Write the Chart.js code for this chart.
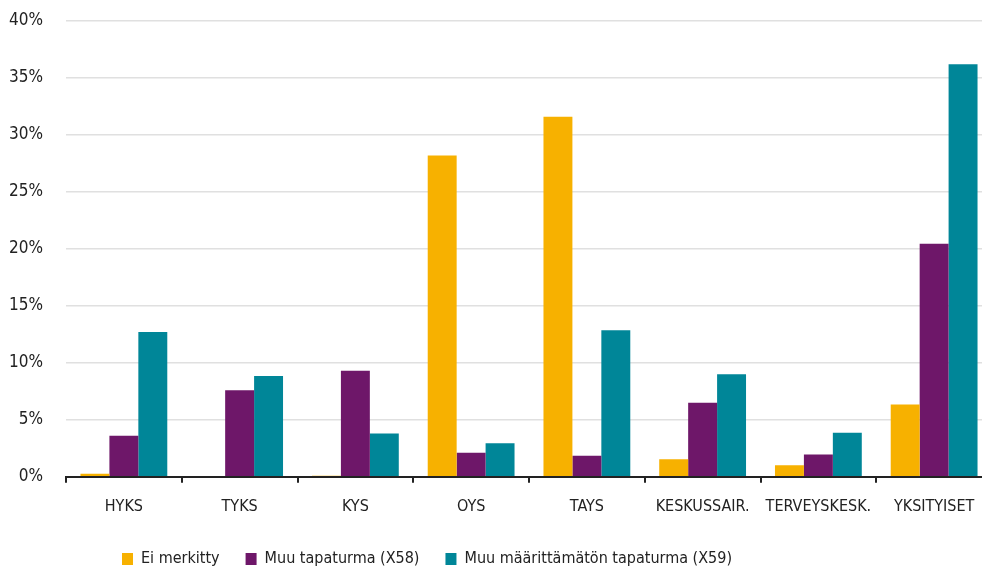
<!DOCTYPE html>
<html>
<head>
<meta charset="utf-8">
<script src="https://cdn.jsdelivr.net/npm/chart.js@4"></script>
<style>
html,body{margin:0;padding:0;overflow:hidden;background:#fff;}
#wrap{position:relative;width:992px;height:568px;}
</style>
</head>
<body>
<div id="wrap"><canvas id="c"></canvas></div>
<script>
const categories = ['HYKS','TYKS','KYS','OYS','TAYS','KESKUSSAIR.','TERVEYSKESK.','YKSITYISET'];
const seriesNames = ['Ei merkitty','Muu tapaturma (X58)','Muu määrittämätön tapaturma (X59)'];
const eiMerkitty = [0.26, 0, 0.1, 28.2, 31.6, 1.55, 1.02, 6.34];
const muuX58 = [3.6, 7.6, 9.3, 2.1, 1.85, 6.5, 1.96, 20.45];
const muuX59 = [12.7, 8.85, 3.8, 2.95, 12.85, 9.0, 3.87, 36.2];
const yTicks = [0,5,10,15,20,25,30,35,40];

const FONT = "'DejaVu Sans Condensed','DejaVu Sans',sans-serif";
const colors = ['#F7B100','#6E1769','#008698'];

const legendShift = {
  id:'legendShift',
  afterLayout(chart){
    const lg = chart.legend;
    if(!lg) return;
    const center = 427;
    const w = lg.right - lg.left;
    lg.left = center - w/2;
    lg.right = center + w/2;
    lg.top -= 5;
    lg.bottom -= 5;
  }
};

new Chart(document.getElementById('c'), {
  type:'bar',
  data:{
    labels: categories,
    datasets:[
      {label:seriesNames[0], data:eiMerkitty, backgroundColor:colors[0]},
      {label:seriesNames[1], data:muuX58, backgroundColor:colors[1]},
      {label:seriesNames[2], data:muuX59, backgroundColor:colors[2]}
    ]
  },
  options:{
    responsive:true,
    maintainAspectRatio:false,
    animation:false,
    datasets:{bar:{categoryPercentage:0.75, barPercentage:1.0, borderWidth:0}},
    layout:{padding:{top:21,right:0,left:0,bottom:-14}},
    plugins:{
      legend:{
        position:'bottom',
        labels:{
          font:{family:FONT,size:16},
          color:'#222',
          boxWidth:11,
          boxHeight:12,
          padding:26
        }
      },
      tooltip:{enabled:false}
    },
    scales:{
      x:{
        grid:{display:true, drawOnChartArea:false, drawTicks:true, tickLength:6, offset:true, color:'#222', lineWidth:2},
        border:{display:true, color:'#222', width:2},
        ticks:{font:{family:FONT,size:16}, color:'#222', padding:14, maxRotation:0, minRotation:0, autoSkip:false}
      },
      y:{
        min:0, max:40,
        afterBuildTicks(scale){ scale.ticks = yTicks.map(v=>({value:v})); },
        afterFit(scale){ scale.width = 66; scale.paddingTop = 0; scale.paddingBottom = 0; },
        grid:{color:'#e0e0e0', lineWidth:1.6, drawTicks:false},
        border:{display:false},
        ticks:{font:{family:FONT,size:17}, color:'#222', padding:23, callback:v=>v+'%'}
      }
    }
  },
  plugins:[legendShift]
});
</script>
</body>
</html>
